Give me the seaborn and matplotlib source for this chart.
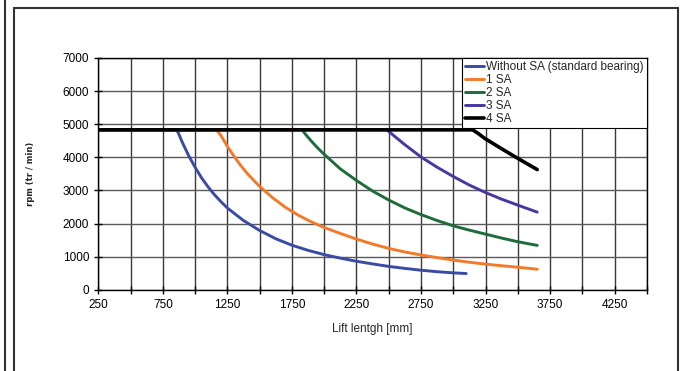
import numpy as np
import pandas as pd
import matplotlib
matplotlib.use("Agg")
import matplotlib.pyplot as plt
from matplotlib.lines import Line2D
import seaborn as sns

# ─── Data ─────────────────────────────────────────────────
series_names = ["Without SA (standard bearing)", "1 SA", "2 SA", "3 SA", "4 SA"]
series_colors = ["#3A4BA3", "#F47A2B", "#1E6B3B", "#4A36A0", "#000000"]

x_without = [250, 855, 870, 900, 950, 1000, 1050, 1100, 1150, 1200, 1250, 1375, 1500, 1625,
             1750, 1875, 2000, 2125, 2250, 2375, 2500, 2625, 2750, 2875, 3000, 3100]
y_without = [4830, 4830, 4740, 4460, 4050, 3700, 3380, 3110, 2870, 2660, 2470, 2090, 1790, 1540,
             1345, 1190, 1060, 955, 860, 780, 705, 645, 590, 545, 510, 490]

x_1sa = [250, 1166, 1200, 1250, 1300, 1350, 1400, 1450, 1500, 1600, 1700, 1800, 1900, 2000,
         2125, 2250, 2375, 2500, 2625, 2750, 2875, 3000, 3125, 3250, 3375, 3500, 3650]
y_1sa = [4830, 4830, 4660, 4330, 4040, 3770, 3530, 3320, 3120, 2780, 2490, 2250, 2050, 1880,
         1700, 1530, 1380, 1250, 1140, 1050, 970, 895, 830, 775, 725, 680, 620]

x_2sa = [250, 1830, 1850, 1900, 1950, 2000, 2125, 2250, 2375, 2500, 2625, 2750, 2875, 3000,
         3125, 3250, 3375, 3500, 3650]
y_2sa = [4830, 4830, 4720, 4490, 4280, 4090, 3650, 3300, 2980, 2710, 2470, 2270, 2090, 1930,
         1800, 1680, 1560, 1450, 1340]

x_3sa = [250, 2485, 2550, 2625, 2750, 2875, 3000, 3125, 3250, 3375, 3500, 3650]
y_3sa = [4830, 4830, 4620, 4380, 4010, 3700, 3420, 3160, 2935, 2735, 2555, 2345]

x_4sa = [250, 3150, 3200, 3240, 3365, 3490, 3650]
y_4sa = [4830, 4830, 4700, 4580, 4280, 3990, 3630]

x_major = [250, 750, 1250, 1750, 2250, 2750, 3250, 3750, 4250]
x_minor = [500, 1000, 1500, 2000, 2500, 3000, 3500, 4000, 4500]
y_ticks = [0, 1000, 2000, 3000, 4000, 5000, 6000, 7000]

xs = [x_without, x_1sa, x_2sa, x_3sa, x_4sa]
ys = [y_without, y_1sa, y_2sa, y_3sa, y_4sa]
df = pd.concat([pd.DataFrame({"lift": x, "rpm": y, "series": n})
                for x, y, n in zip(xs, ys, series_names)], ignore_index=True)

# ─── Style ────────────────────────────────────────────────
sns.set_theme(style="white")
plt.rcParams["font.family"] = ["Liberation Sans", "DejaVu Sans"]

fig = plt.figure(figsize=(6.81, 3.71), dpi=100)
ax = fig.add_axes([0.1443, 0.219, 0.8057, 0.6247])

for i, name in enumerate(series_names):
    sub = df[df["series"] == name]
    sns.lineplot(data=sub, x="lift", y="rpm", ax=ax, color=series_colors[i],
                 lw=2.6 if name == "4 SA" else 2.1, estimator=None, sort=False,
                 label=name, zorder=5 if name == "4 SA" else 4)

ax.set_xlim(250, 4500)
ax.set_ylim(0, 7000)
ax.set_xticks(x_major)
ax.set_xticklabels([str(v) for v in x_major])
ax.set_xticks(x_minor, minor=True)
ax.set_yticks(y_ticks)
ax.set_yticklabels([str(v) for v in y_ticks])

ax.grid(True, which="both", axis="x", color="#3a3a3a", lw=1.0)
ax.grid(True, which="major", axis="y", color="#5a5a5a", lw=1.0)
ax.tick_params(axis="both", which="both", direction="inout", length=6,
               width=1, color="black", labelsize=8.5, colors="black",
               bottom=True, left=True)
ax.tick_params(axis="x", which="major", pad=4)
for s in ax.spines.values():
    s.set_color("black")
    s.set_linewidth(1.0)

ax.set_xlabel("Lift lentgh [mm]", fontsize=8.5, labelpad=8)
ax.set_ylabel("rpm (tr / min)", fontsize=6, fontweight="bold", family="DejaVu Sans")
ax.yaxis.set_label_coords(-0.115, 0.5)

leg = ax.legend(loc="upper right", bbox_to_anchor=(1.0, 1.0), borderaxespad=0,
                frameon=True, fancybox=False, framealpha=1, edgecolor="black",
                fontsize=8.5, handlelength=1.6, handletextpad=0.2,
                labelspacing=0.08, borderpad=0.25)
leg.get_frame().set_linewidth(0.8)
leg.set_zorder(10)

# ─── Outer frame ──────────────────────────────────────────
W, H = 681, 371
frame_kw = dict(transform=fig.transFigure, color="#333333", lw=1.5)
fig.add_artist(Line2D([4.5 / W, 4.5 / W], [0, 1], **frame_kw))
fig.add_artist(Line2D([13.5 / W, 13.5 / W], [0, 1 - 8 / H], **frame_kw))
fig.add_artist(Line2D([13.5 / W, 677.5 / W], [1 - 8 / H, 1 - 8 / H], **frame_kw))
fig.add_artist(Line2D([677.5 / W, 677.5 / W], [0, 1 - 8 / H], **frame_kw))

fig.savefig("out.png", dpi=100, facecolor="white")
